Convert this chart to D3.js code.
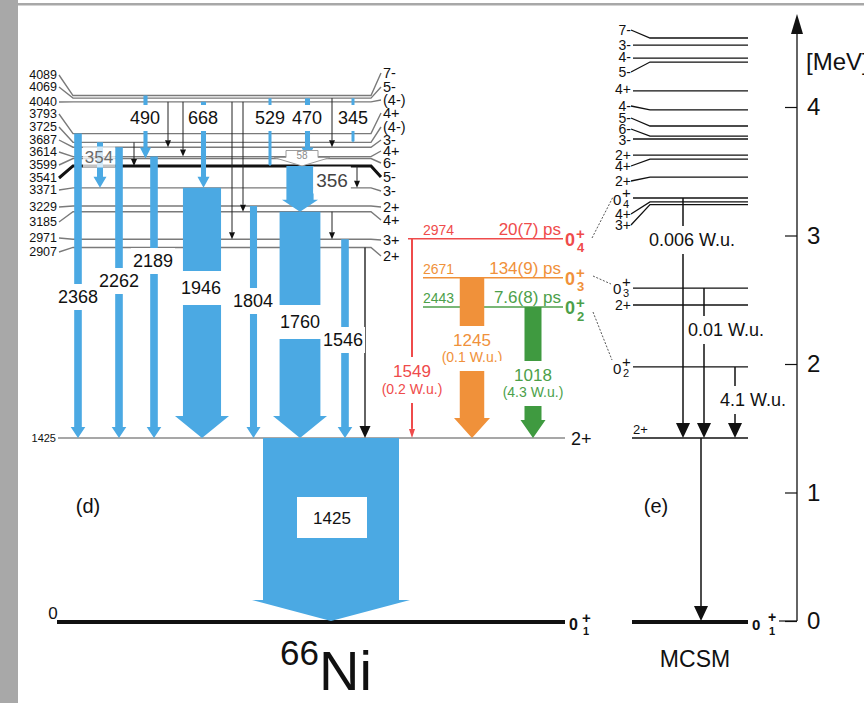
<!DOCTYPE html>
<html>
<head>
<meta charset="utf-8">
<script src="https://cdn.jsdelivr.net/npm/d3@7"></script>
<style>
  html, body { margin: 0; padding: 0; background: #fff; }
  svg { display: block; font-family: "Liberation Sans", Arial, Helvetica, sans-serif; }
</style>
</head>
<body>
<svg id="chart" width="864" height="703"></svg>
<script>
// ---------------- Experimental levels of 66Ni (keV) ----------------
const levelEnergies = [4089, 4069, 4040, 3793, 3725, 3687, 3614, 3599, 3541, 3371, 3229, 3185, 2971, 2907];
const levelSpins    = ["7-", "5-", "(4-)", "4+", "(4-)", "3-", "4+", "6-", "5-", "3-", "2+", "4+", "3+", "2+"];
const firstExcited  = { energy: 1425, spin: "2+" };

// Strong gamma transitions (keV), initial/final levels and relative intensity
const gammaLabels    = ["2368", "2262", "2189", "354", "490", "668", "1946", "1804", "529", "470", "1760", "356", "345", "1546", "1425"];
const gammaFrom      = [3793, 3687, 3614, 3725, 4089, 4040, 3371, 3229, 4069, 4069, 3185, 3541, 4069, 2971, 1425];
const gammaTo        = [1425, 1425, 1425, 3371, 3599, 3371, 1425, 1425, 3541, 3599, 1425, 3185, 3725, 1425, 0];
const gammaIntensity = [5.6, 5.6, 5.6, 4.4, 3.0, 3.7, 28, 5.2, 2.2, 3.7, 30, 20, 2.2, 5.6, 100];

// Weak transitions (initial, final level)
const weakFrom = [4040, 4040, 3725, 4040, 4040, 4069, 3185, 3541, 2907];
const weakTo   = [3687, 3614, 3541, 2971, 3185, 3687, 2971, 3371, 1425];

// 58 keV transition 3599 -> 3541
const lowGamma = { label: "58", from: 3599, to: 3541 };

// Excited 0+ states
const zeroEnergies   = [2974, 2671, 2443];
const zeroIndex      = ["4", "3", "2"];
const zeroLifetimes  = ["20(7) ps", "134(9) ps", "7.6(8) ps"];
const zeroGammas     = ["1549", "1245", "1018"];
const zeroStrengths  = ["(0.2 W.u.)", "(0.1 W.u.)", "(4.3 W.u.)"];
const zeroIntensity  = [1.5, 18, 12.5];

// ---------------- MCSM calculation (MeV) ----------------
const mcsmEnergies = [4.537, 4.482, 4.381, 4.350, 4.125, 3.977, 3.852, 3.774, 3.751, 3.626, 3.595, 3.455,
                      3.292, 3.262, 3.240, 2.591, 2.459, 1.977, 1.424, 0];
const mcsmSpins    = ["7-", "3-", "4-", "5-", "4+", "4-", "5-", "6-", "3-", "2+", "4+", "2+",
                      "0+4", "4+", "3+", "0+3", "2+", "0+2", "2+", "0+1"];
const mcsmTransFrom  = [3.292, 2.591, 1.977, 1.424];
const mcsmTransTo    = [1.424, 1.424, 1.424, 0];
const mcsmTransLabel = ["0.006 W.u.", "0.01 W.u.", "4.1 W.u.", ""];

const axisTicks = [0, 1, 2, 3, 4];

// ---------------- drawing ----------------
const svg = d3.select("#chart");
const W = 864, H = 703;
const BLUE = "#4ba9e3", RED = "#ef4b4b", ORANGE = "#f0913a", GREEN = "#4c9f4a", GREEN_D = "#3f9a40";
const zeroColors = [RED, ORANGE, GREEN];

// page frame
svg.append("rect").attr("x", 0).attr("y", 0).attr("width", 18).attr("height", H).attr("fill", "#a8a8a8");
svg.append("rect").attr("x", 18).attr("y", 3).attr("width", W - 18).attr("height", 2.5).attr("fill", "#a8a8a8");

// energy scales (shared pixel/MeV ratio)
const yE = d3.scaleLinear().domain([0, 4000]).range([621, 107]);   // keV
const yM = d3.scaleLinear().domain([0, 4]).range([621, 107]);      // MeV
const wScale = d3.scaleLinear().domain([0, 100]).range([0, 136]);  // intensity -> arrow width

const gLevels = svg.append("g");
const gArrows = svg.append("g");
const gLabels = svg.append("g");

// ----- panel (d): level lines -----
const dLeft = 73, dRight = 371;
const leftLabelY  = [75, 87, 102, 114, 127, 140, 152, 165, 178, 190, 207, 222, 238, 252];
const rightLabelY = [73, 87, 100, 113, 127, 140, 151, 163, 177, 191, 207, 220, 240, 256];

levelEnergies.forEach((e, i) => {
  const y = yE(e);
  const thick = e === 3541;
  gLevels.append("path")
    .attr("d", `M59,${leftLabelY[i]} L${dLeft},${y} L${dRight},${y} L381,${rightLabelY[i]}`)
    .attr("fill", "none")
    .attr("stroke", thick ? "#111" : "#7a7a7a")
    .attr("stroke-width", thick ? 3 : 1.4);
  gLabels.append("text").attr("x", 57).attr("y", leftLabelY[i])
    .attr("text-anchor", "end").attr("dominant-baseline", "central")
    .attr("font-size", 12.5).attr("fill", "#111").text(e);
  gLabels.append("text").attr("x", 383).attr("y", rightLabelY[i])
    .attr("dominant-baseline", "central")
    .attr("font-size", 14.5).attr("fill", "#111").text(levelSpins[i]);
});

// 2+ first excited state
gLevels.append("line").attr("x1", 58).attr("x2", 565)
  .attr("y1", yE(firstExcited.energy)).attr("y2", yE(firstExcited.energy))
  .attr("stroke", "#8a8a8a").attr("stroke-width", 1.5);
gLabels.append("text").attr("x", 56).attr("y", yE(firstExcited.energy))
  .attr("text-anchor", "end").attr("dominant-baseline", "central")
  .attr("font-size", 11).attr("fill", "#111").text(firstExcited.energy);
gLabels.append("text").attr("x", 571).attr("y", yE(firstExcited.energy) + 1)
  .attr("dominant-baseline", "central").attr("font-size", 18).attr("fill", "#111").text(firstExcited.spin);

// ground state
gLevels.append("line").attr("x1", 57).attr("x2", 565).attr("y1", yE(0) + 1).attr("y2", yE(0) + 1)
  .attr("stroke", "#111").attr("stroke-width", 4);
gLabels.append("text").attr("x", 53).attr("y", yE(0) - 8).attr("text-anchor", "middle")
  .attr("dominant-baseline", "central").attr("font-size", 17).attr("fill", "#111").text("0");

// ----- blue gamma arrows -----
const gammaX = { "2368": 78, "2262": 119, "2189": 154, "354": 100, "490": 145.5, "668": 203.5, "1946": 202,
                 "1804": 253.5, "529": 270, "470": 307.5, "1760": 300, "356": 300, "345": 353, "1546": 345, "1425": 331 };
const gammaHead = { "1946": [27, 22], "1760": [27, 22], "356": [18, 12], "1425": [79, 21],
                    "345": [1.1, 1], "529": [1.1, 1] };

function arrowPath(x, y1, y2, w, hw, hh) {
  const yh = y2 - hh;
  return `M${x - w / 2},${y1} L${x - w / 2},${yh} L${x - hw},${yh} L${x},${y2} L${x + hw},${yh} L${x + w / 2},${yh} L${x + w / 2},${y1} Z`;
}

gammaLabels.forEach((lab, i) => {
  const w = wScale(gammaIntensity[i]);
  const head = gammaHead[lab] || [w / 2 + 3.5, 11];
  gArrows.append("path")
    .attr("d", arrowPath(gammaX[lab], yE(gammaFrom[i]), yE(gammaTo[i]), w, head[0], head[1]))
    .attr("fill", BLUE);
});

// 58 keV hollow arrow
(function () {
  const y1 = yE(lowGamma.from) - 8, y2 = yE(lowGamma.to);
  const x = 302;
  gArrows.append("path")
    .attr("d", `M${x - 16},${y1} L${x + 16},${y1} L${x + 16},${y1 + 7} L${x + 28},${y1 + 7} L${x},${y2} L${x - 28},${y1 + 7} L${x - 16},${y1 + 7} Z`)
    .attr("fill", "#fff").attr("stroke", "#9a9a9a").attr("stroke-width", 1);
  gArrows.append("text").attr("x", x).attr("y", y1 + 5).attr("text-anchor", "middle")
    .attr("dominant-baseline", "central").attr("font-size", 10).attr("fill", "#8a8a8a").text(lowGamma.label);
})();

// weak transitions (thin black)
const weakX = [168, 183, 134, 232, 243, 332, 332, 357, 365];
weakFrom.forEach((f, i) => {
  const x = weakX[i], y1 = yE(f), y2 = yE(weakTo[i]);
  const big = weakTo[i] === 1425;
  const hw = big ? 5.5 : 3, hh = big ? 12 : 7;
  gArrows.append("line").attr("x1", x).attr("x2", x).attr("y1", y1).attr("y2", y2 - hh)
    .attr("stroke", "#222").attr("stroke-width", big ? 1.4 : 1);
  gArrows.append("path").attr("d", `M${x - hw},${y2 - hh} L${x + hw},${y2 - hh} L${x},${y2} Z`).attr("fill", "#111");
});

// label with white backing box
function boxedText(g, x, y, txt, opts) {
  const o = Object.assign({ size: 18, color: "#111", padX: 2, padY: 3, bgOpacity: 1 }, opts || {});
  const t = g.append("text").attr("x", x).attr("y", y).attr("text-anchor", "middle")
    .attr("dominant-baseline", "central").attr("font-size", o.size).attr("fill", o.color).text(txt);
  const b = t.node().getBBox();
  g.insert("rect", () => t.node())
    .attr("x", b.x - o.padX).attr("y", b.y - o.padY)
    .attr("width", b.width + 2 * o.padX).attr("height", b.height + 2 * o.padY)
    .attr("fill", "#fff").attr("fill-opacity", o.bgOpacity);
  return t;
}

const gammaLabelPos = {
  "2368": [78, 297], "2262": [119, 281], "2189": [153, 261], "354": [99, 157],
  "490": [145, 118], "668": [203, 118], "1946": [201, 288], "1804": [253, 301],
  "529": [270, 118], "470": [307, 118], "1760": [300, 322], "356": [332, 180],
  "345": [353, 118], "1546": [343, 340]
};
gammaLabels.forEach(lab => {
  if (lab === "1425") return;
  const p = gammaLabelPos[lab];
  let opts = {};
  if (lab === "354") opts = { size: 17, color: "#6a6a6a", bgOpacity: 0.75, padY: 1 };
  if (lab === "356") opts = { size: 19, color: "#444", padX: 3 };
  if (lab === "1946" || lab === "1760") opts = { padY: 7 };
  boxedText(gLabels, p[0], p[1], lab, opts);
});
// 1425 label box
gLabels.append("rect").attr("x", 297).attr("y", 497).attr("width", 70).attr("height", 41).attr("fill", "#fff");
gLabels.append("text").attr("x", 332).attr("y", 518).attr("text-anchor", "middle")
  .attr("dominant-baseline", "central").attr("font-size", 17).attr("fill", "#111").text("1425");

// ----- excited 0+ states -----
function zeroLabel(g, x, y, sub, color, size, weight, plusDy, subDy, supSize, subSize, dx) {
  const gg = g.append("g").attr("fill", color).attr("font-weight", weight);
  gg.append("text").attr("x", x).attr("y", y).attr("font-size", size).attr("dominant-baseline", "central").text("0");
  const x2 = x + (dx || size * 0.6);
  gg.append("text").attr("x", x2).attr("y", y + plusDy).attr("font-size", supSize).attr("dominant-baseline", "central").text("+");
  gg.append("text").attr("x", x2 + 1).attr("y", y + subDy).attr("font-size", subSize).attr("dominant-baseline", "central").text(sub);
}

const zeroStart = [408, 423, 423];
zeroEnergies.forEach((e, i) => {
  const y = yE(e), c = zeroColors[i];
  gLevels.append("line").attr("x1", zeroStart[i]).attr("x2", 563).attr("y1", y).attr("y2", y)
    .attr("stroke", c).attr("stroke-width", 1.5);
  gLabels.append("text").attr("x", 423).attr("y", y - 4).attr("font-size", 14).attr("fill", c).text(e);
  gLabels.append("text").attr("x", 561).attr("y", y - 4).attr("text-anchor", "end")
    .attr("font-size", 17).attr("fill", c).text(zeroLifetimes[i]);
  zeroLabel(gLabels, 565, y + 1, zeroIndex[i], c, 18, "bold", -6, 8, 15, 13, 11);
});

// red 1549 transition (thin line)
(function () {
  const x = 412, y1 = yE(zeroEnergies[0]), y2 = yE(1425);
  gArrows.append("line").attr("x1", x).attr("x2", x).attr("y1", y1).attr("y2", y2 - 9)
    .attr("stroke", RED).attr("stroke-width", wScale(zeroIntensity[0]));
  gArrows.append("path").attr("d", `M${x - 3},${y2 - 9} L${x + 3},${y2 - 9} L${x},${y2} Z`).attr("fill", RED);
})();
// orange 1245 and green 1018 transitions
const zeroArrowX = [412, 472, 533];
const zeroHead = [[3, 9], [18, 20], [12.5, 18]];
[1, 2].forEach(i => {
  const w = wScale(zeroIntensity[i]);
  gArrows.append("path")
    .attr("d", arrowPath(zeroArrowX[i], yE(zeroEnergies[i]), yE(1425), w, zeroHead[i][0], zeroHead[i][1]))
    .attr("fill", i === 1 ? ORANGE : GREEN_D);
});
// transition labels with white gap
const zeroLabelY = [[371, 389], [340, 357], [375, 392]];
zeroGammas.forEach((g, i) => {
  const x = zeroArrowX[i], c = zeroColors[i];
  const y0 = zeroLabelY[i][0], y1 = zeroLabelY[i][1];
  gLabels.append("rect").attr("x", x - 36).attr("y", y0 - 14).attr("width", 72).attr("height", y1 - y0 + 28).attr("fill", "#fff");
  gLabels.append("text").attr("x", x).attr("y", y0).attr("text-anchor", "middle").attr("dominant-baseline", "central")
    .attr("font-size", 17).attr("fill", c).text(g);
  gLabels.append("text").attr("x", x).attr("y", y1).attr("text-anchor", "middle").attr("dominant-baseline", "central")
    .attr("font-size", 14).attr("fill", c).text(zeroStrengths[i]);
});

// 0+1 ground state label (d)
zeroLabel(gLabels, 569, yE(0) + 3, "1", "#111", 16, "bold", -7, 7, 15, 11, 13);

// panel captions
gLabels.append("text").attr("x", 88).attr("y", 506).attr("text-anchor", "middle").attr("dominant-baseline", "central")
  .attr("font-size", 20).attr("fill", "#111").text("(d)");
const niText = gLabels.append("text").attr("fill", "#111");
niText.append("tspan").attr("x", 280).attr("y", 665).attr("font-size", 35).text("66");
niText.append("tspan").attr("y", 690).attr("font-size", 56).text("Ni");

// dotted correspondences to the MCSM 0+ states
const dotLinks = [[592, 238, 613, 197], [593, 276, 611, 284], [593, 312, 612, 360]];
dotLinks.forEach(d => {
  gLevels.append("line").attr("x1", d[0]).attr("y1", d[1]).attr("x2", d[2]).attr("y2", d[3])
    .attr("stroke", "#444").attr("stroke-width", 0.9).attr("stroke-dasharray", "2,1.6");
});

// ----- panel (e): MCSM -----
const eLeft = 633, eRight = 748;
const mcsmLabelY = [30, 45, 57, 72, 89, 106, 118, 129, 140, 155, 166, 181, 199, 214, 225, 288, 305, 368];
mcsmEnergies.forEach((e, i) => {
  const y = yM(e);
  const spin = mcsmSpins[i];
  if (e === 0) {
    gLevels.append("line").attr("x1", 632).attr("x2", eRight).attr("y1", y + 1).attr("y2", y + 1)
      .attr("stroke", "#111").attr("stroke-width", 4);
    zeroLabel(gLabels, 752, y + 3, "1", "#111", 15, "bold", -7, 7, 14, 11, 16);
    return;
  }
  if (i === 18) {
    gLevels.append("line").attr("x1", 632).attr("x2", eRight).attr("y1", y).attr("y2", y)
      .attr("stroke", "#111").attr("stroke-width", 1.4);
    gLabels.append("text").attr("x", 633).attr("y", y - 9).attr("dominant-baseline", "central")
      .attr("font-size", 13).attr("fill", "#111").text(spin);
    return;
  }
  const ly = mcsmLabelY[i];
  const bend = Math.abs(ly - y) > 2.5;
  gLevels.append("path")
    .attr("d", bend ? `M631,${ly} L650,${y} L${eRight},${y}` : `M${eLeft},${y} L${eRight},${y}`)
    .attr("fill", "none").attr("stroke", "#111").attr("stroke-width", 1.3);
  if (spin.startsWith("0+")) {
    zeroLabel(gLabels, 613, ly, spin.slice(2), "#111", 15, "normal", -7, 5, 15, 11, 9);
  } else {
    gLabels.append("text").attr("x", 631).attr("y", ly).attr("text-anchor", "end").attr("dominant-baseline", "central")
      .attr("font-size", 14).attr("fill", "#111").text(spin);
  }
});

// MCSM transitions
const mcsmX = [683, 704, 735, 701];
const mcsmLabelPos = [[692, 240], [726, 330], [753, 400]];
mcsmTransFrom.forEach((f, i) => {
  const x = mcsmX[i], y1 = yM(f), y2 = yM(mcsmTransTo[i]);
  gArrows.append("line").attr("x1", x).attr("x2", x).attr("y1", y1).attr("y2", y2 - 14)
    .attr("stroke", "#111").attr("stroke-width", 1.5);
  gArrows.append("path").attr("d", `M${x - 7},${y2 - 15} L${x + 7},${y2 - 15} L${x},${y2} Z`).attr("fill", "#111");
  if (mcsmTransLabel[i]) {
    const p = mcsmLabelPos[i];
    boxedText(gLabels, p[0], p[1], mcsmTransLabel[i], { size: 18, padX: 1, padY: 4 });
  }
});

gLabels.append("text").attr("x", 656).attr("y", 506).attr("text-anchor", "middle").attr("dominant-baseline", "central")
  .attr("font-size", 20).attr("fill", "#111").text("(e)");
gLabels.append("text").attr("x", 695).attr("y", 659).attr("text-anchor", "middle").attr("dominant-baseline", "central")
  .attr("font-size", 23).attr("fill", "#111").text("MCSM");

// ----- energy axis -----
const axisX = 797;
const axis = d3.axisRight(yM).tickValues(axisTicks).tickSize(-12).tickPadding(10).tickFormat(d3.format("d"));
const gAxis = svg.append("g").attr("transform", `translate(${axisX},0)`).call(axis);
gAxis.select(".domain").remove();
gAxis.selectAll(".tick line").attr("stroke", "#111").attr("stroke-width", 1.2);
gAxis.selectAll(".tick text").attr("font-size", 24).attr("fill", "#111")
  .attr("font-family", "'Liberation Sans', Arial, sans-serif");
svg.append("line").attr("x1", axisX).attr("x2", axisX).attr("y1", 30).attr("y2", yM(0))
  .attr("stroke", "#111").attr("stroke-width", 1.3);
svg.append("line").attr("x1", 779).attr("x2", axisX).attr("y1", yM(0)).attr("y2", yM(0))
  .attr("stroke", "#111").attr("stroke-width", 1.2);
svg.append("path").attr("d", `M${axisX},14 L${axisX - 6},34 L${axisX + 6},34 Z`).attr("fill", "#111");
svg.append("text").attr("x", 806).attr("y", 61).attr("dominant-baseline", "central")
  .attr("font-size", 24).attr("fill", "#111").text("[MeV]");
</script>
</body>
</html>
